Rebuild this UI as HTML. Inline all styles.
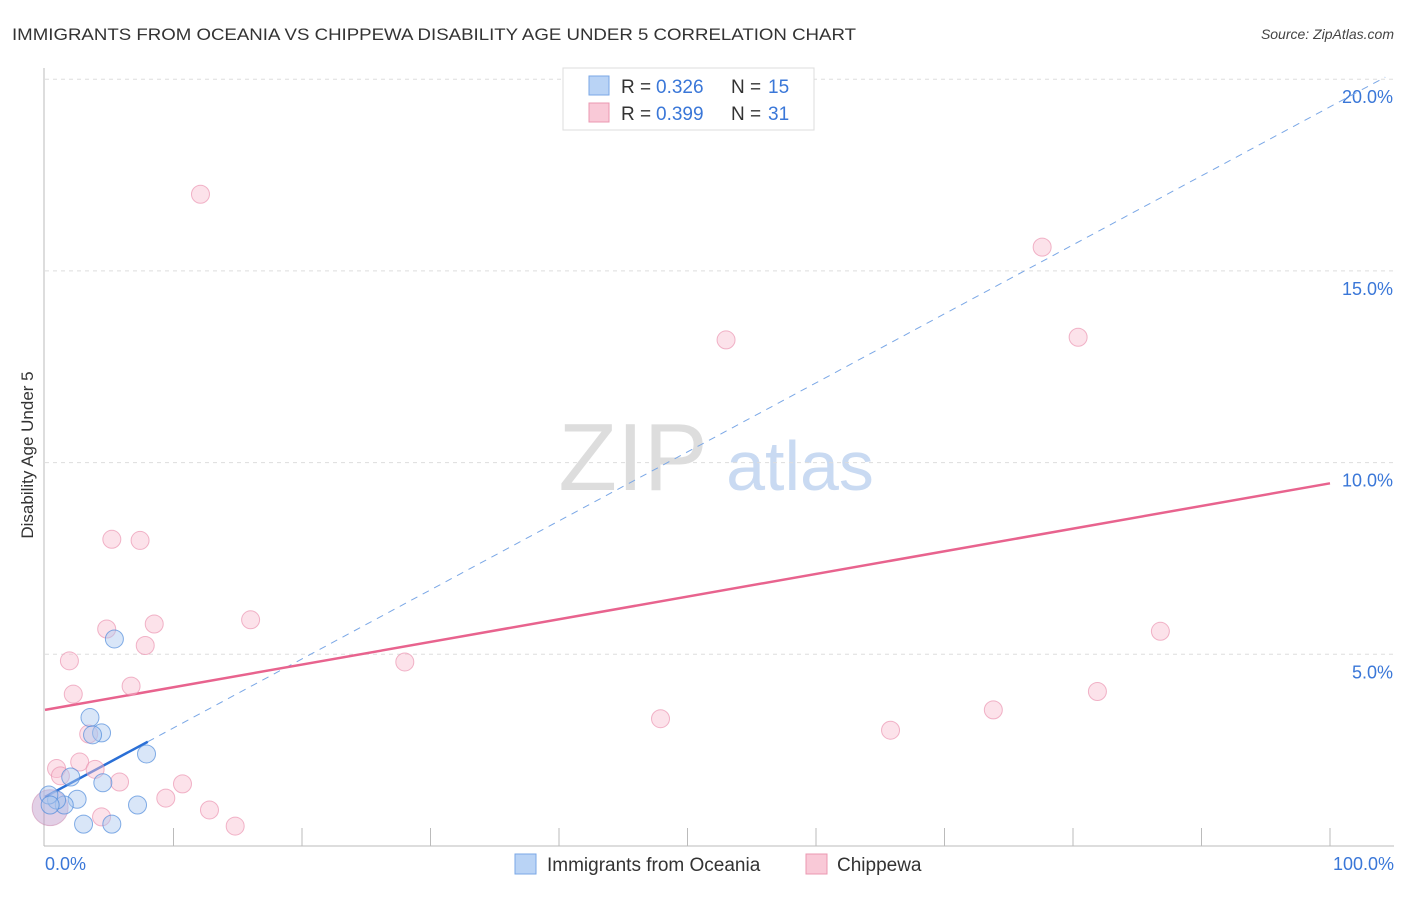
<!DOCTYPE html>
<html><head><meta charset="utf-8"><style>
body{margin:0;background:#fff;font-family:"Liberation Sans",sans-serif;}
svg text{font-family:"Liberation Sans",sans-serif;}
</style></head><body>
<svg id="chart" width="1406" height="892">
<text x="12" y="40" font-size="17" fill="#333" textLength="844" lengthAdjust="spacingAndGlyphs">IMMIGRANTS FROM OCEANIA VS CHIPPEWA DISABILITY AGE UNDER 5 CORRELATION CHART</text>
<text x="1394" y="39" font-size="14" font-style="italic" fill="#444" text-anchor="end">Source: ZipAtlas.com</text>
<text x="33" y="455" font-size="17" fill="#333" text-anchor="middle" transform="rotate(-90 33 455)">Disability Age Under 5</text>
<g><text x="633" y="490" font-size="96" font-family="Liberation Serif" fill="#ddd" text-anchor="middle">ZIP</text><text x="800" y="490" font-size="70" fill="#c9daf2" text-anchor="middle">atlas</text></g>
<g id="grid"></g><g id="axes"></g><g id="lines"></g><g id="pts"></g>
<g>
<rect x="563" y="68" width="251" height="62" fill="#fff" stroke="#ddd"/>
<rect x="589" y="76" width="20" height="19" fill="#b9d3f5" stroke="#7aa7e6"/>
<text x="621" y="93" font-size="19" fill="#333">R = </text><text x="656" y="93" font-size="19" fill="#3a77d8">0.326</text>
<text x="731" y="93" font-size="19" fill="#333">N = </text><text x="768" y="93" font-size="19" fill="#3a77d8">15</text>
<rect x="589" y="103" width="20" height="19" fill="#f9c9d7" stroke="#eb98b2"/>
<text x="621" y="120" font-size="19" fill="#333">R = </text><text x="656" y="120" font-size="19" fill="#3a77d8">0.399</text>
<text x="731" y="120" font-size="19" fill="#333">N = </text><text x="768" y="120" font-size="19" fill="#3a77d8">31</text>
</g>
<g>
<rect x="515" y="854" width="21" height="20" fill="#b9d3f5" stroke="#7aa7e6"/>
<text x="547" y="871" font-size="19" fill="#333">Immigrants from Oceania</text>
<rect x="806" y="854" width="21" height="20" fill="#f9c9d7" stroke="#eb98b2"/>
<text x="837" y="871" font-size="19" fill="#333">Chippewa</text>
</g>
</svg>
<script>
const yTicks=[5,10,15,20];
const blueX=[5.4,3.5,4.4,3.7,7.9,2.0,4.5,2.5,1.5,0.9,7.2,3.0,5.2,0.3,0.4];
const blueY=[5.4,3.35,2.95,2.9,2.4,1.8,1.65,1.22,1.07,1.2,1.07,0.57,0.57,1.33,1.07];
const pinkX=[12.1,77.6,53.0,80.4,5.2,7.4,4.8,8.5,16.0,7.8,1.9,28.0,86.8,6.7,2.2,81.9,73.8,47.9,65.8,3.4,2.7,0.9,3.9,5.8,1.2,10.7,9.4,12.8,4.4,14.8];
const pinkY=[17.0,15.62,13.2,13.27,8.0,7.97,5.66,5.79,5.9,5.23,4.83,4.8,5.6,4.17,3.96,4.03,3.55,3.32,3.02,2.92,2.19,2.02,2.0,1.67,1.83,1.62,1.25,0.94,0.76,0.52];
const blueFit=[1.28,0.18];
const pinkLine=[3.55,9.46];
</script>
<script>
const X=v=>45+v*12.85, Y=v=>846-v*38.34;
const NS="http://www.w3.org/2000/svg";
function mk(t,a,p){const e=document.createElementNS(NS,t);for(const k in a)e.setAttribute(k,a[k]);p.appendChild(e);return e;}
const grid=document.getElementById('grid'),axes=document.getElementById('axes'),lines=document.getElementById('lines'),pts=document.getElementById('pts');
yTicks.forEach(t=>{
 const l=mk('line',{x1:45,x2:1394,y1:Y(t),y2:Y(t),stroke:'#ddd','stroke-dasharray':'4,4'},grid);
 
 
 const tx=mk('text',{x:1393,y:Y(t)+24,'font-size':18,fill:'#3a77d8','text-anchor':'end'},grid);tx.textContent=t.toFixed(1)+'%';
 
 
});
mk('line',{x1:44,x2:44,y1:68,y2:846,stroke:'#bbb'},axes);
mk('line',{x1:44,x2:1394,y1:846,y2:846,stroke:'#bbb'},axes);
for(let i=1;i<=10;i++){mk('line',{x1:X(i*10),x2:X(i*10),y1:828,y2:846,stroke:'#bbb'},axes);}
let t0=mk('text',{x:45,y:870,'font-size':18,fill:'#3a77d8'},axes);t0.textContent='0.0%';


let t1=mk('text',{x:1394,y:870,'font-size':18,fill:'#3a77d8','text-anchor':'end'},axes);t1.textContent='100.0%';


const bl=v=>blueFit[0]+blueFit[1]*v;
let d=mk('line',{x1:X(8),y1:Y(bl(8)),x2:X(104.3),y2:Y(bl(104.3)),stroke:'#7aa7e6','stroke-width':1,'stroke-dasharray':'7,6'},lines);


let s=mk('line',{x1:X(0),y1:Y(bl(0)),x2:X(8),y2:Y(bl(8)),stroke:'#2a6fd6','stroke-width':2.5},lines);


let p=mk('line',{x1:X(0),y1:Y(pinkLine[0]),x2:X(100),y2:Y(pinkLine[1]),stroke:'#e8638e','stroke-width':2.5},lines);


let big=mk('circle',{cx:X(0.4),cy:Y(1.0),r:18,fill:'rgba(190,150,200,0.45)',stroke:'rgba(200,130,170,0.5)'},pts);


pinkX.forEach((x,i)=>{const c=mk('circle',{cx:X(x),cy:Y(pinkY[i]),r:9,fill:'rgba(249,190,208,0.45)',stroke:'rgba(235,150,178,0.7)'},pts);
 
 });
blueX.forEach((x,i)=>{const c=mk('circle',{cx:X(x),cy:Y(blueY[i]),r:9,fill:'rgba(170,200,240,0.45)',stroke:'rgba(80,140,220,0.7)'},pts);
 
 });
</script>
</body></html>
